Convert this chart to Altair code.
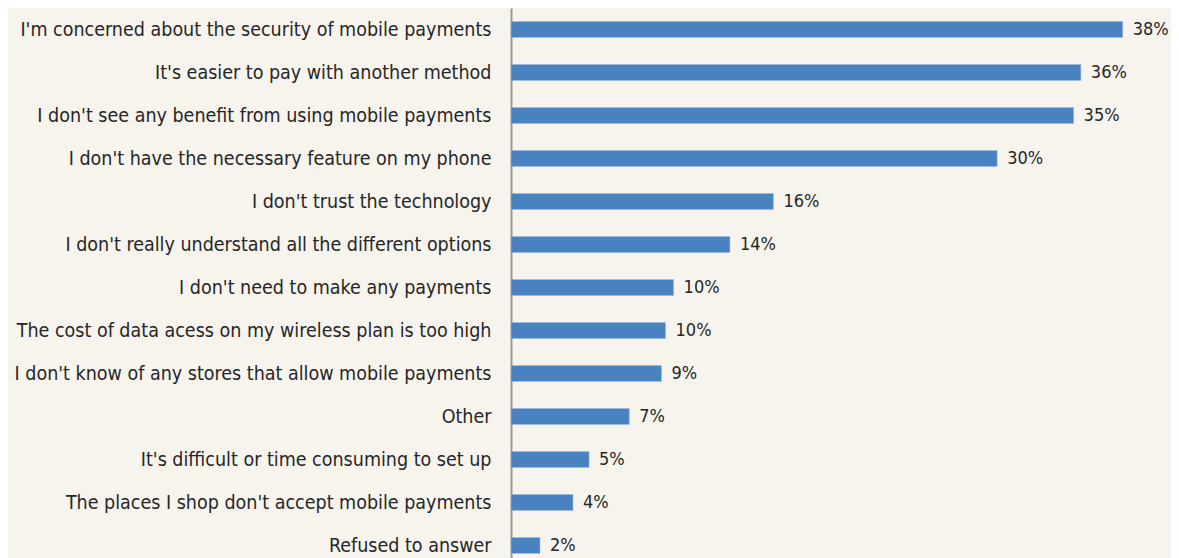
import altair as alt
import pandas as pd

categories = [
    "I'm concerned about the security of mobile payments",
    "It's easier to pay with another method",
    "I don't see any benefit from using mobile payments",
    "I don't have the necessary feature on my phone",
    "I don't trust the technology",
    "I don't really understand all the different options",
    "I don't need to make any payments",
    "The cost of data acess on my wireless plan is too high",
    "I don't know of any stores that allow mobile payments",
    "Other",
    "It's difficult or time consuming to set up",
    "The places I shop don't accept mobile payments",
    "Refused to answer",
]
values = [38.0, 35.4, 34.95, 30.2, 16.3, 13.6, 10.1, 9.6, 9.35, 7.35, 4.85, 3.85, 1.8]
labels = ["38%", "36%", "35%", "30%", "16%", "14%", "10%", "10%", "9%", "7%", "5%", "4%", "2%"]

df = pd.DataFrame({"cat": categories, "val": values, "lab": labels})

FONT = "DejaVu Sans Condensed, DejaVu Sans, sans-serif"
FS = 19.5

y = alt.Y(
    "cat:N",
    sort=categories,
    scale=alt.Scale(paddingInner=0.63, paddingOuter=0.315),
    axis=alt.Axis(
        title=None,
        ticks=False,
        labelPadding=20,
        labelFont=FONT,
        labelFontSize=FS,
        labelColor="#262626",
        labelLimit=600,
        domainColor="#9a9a9a",
        domainWidth=2,
    ),
)
x = alt.X(
    "val:Q",
    scale=alt.Scale(domain=[0, 41], nice=False),
    axis=None,
)

bars = alt.Chart(df).mark_bar(color="#4a81c0", stroke="#9dbbe0", strokeWidth=0.5).encode(x=x, y=y)
text = alt.Chart(df).mark_text(
    align="left", baseline="middle", dx=10, font=FONT, fontSize=18, color="#262626"
).encode(x=x, y=y, text="lab:N")

chart = (
    alt.layer(bars, text)
    .properties(
        width=660,
        height=alt.Step(43),
        background="#f7f4ee",
        padding={"left": 503, "top": 0, "right": 0, "bottom": 0},
        autosize=alt.AutoSizeParams(type="none"),
    )
    .configure_view(stroke=None)
)

chart.save("out.html", embed_options={"renderer": "svg", "actions": False})
